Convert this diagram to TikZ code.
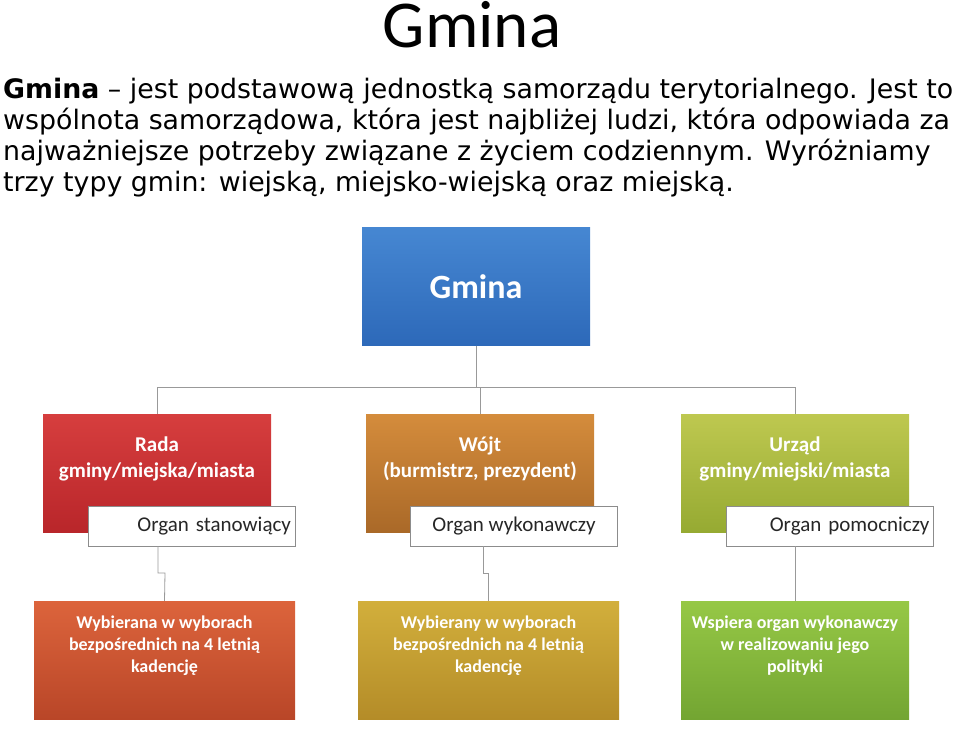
\documentclass[tikz,border=0pt]{standalone}
\usepackage{fontspec}
\setmainfont{DejaVu Sans}
\newfontfamily\carl{Carlito}
\begin{document}
\begin{tikzpicture}[x=1pt,y=-1pt,
  box/.style={minimum width=228pt,minimum height=118pt,inner sep=0pt,align=center,text=white,font=\carl\bfseries\fontsize{21}{26}\selectfont},
  low/.style={minimum width=261pt,minimum height=118pt,inner sep=0pt,align=center,text=white,font=\carl\bfseries\fontsize{18}{22}\selectfont},
  lab/.style={draw=black!45,fill=white,minimum width=207pt,minimum height=40pt,inner sep=0pt,font=\carl\fontsize{21}{25}\selectfont,text=black!85},
  conn/.style={draw=black!40,line width=0.8pt}]
\useasboundingbox (0,0) rectangle (960,736);
\node[font=\carl\fontsize{67}{74}\selectfont] (title) at (472,25) {Gmina};
\node[anchor=north west,inner sep=0pt,align=left,font=\fontsize{26.8}{31}\selectfont] (para) at (3,78)
{\textbf{Gmina} -- jest podstawową jednostką samorządu terytorialnego. Jest to\\
wspólnota samorządowa, która jest najbliżej ludzi, która odpowiada za\\
najważniejsze potrzeby związane z życiem codziennym. Wyróżniamy\\
trzy typy gmin: wiejską, miejsko-wiejską oraz miejską.};
\node[box,top color={rgb,255:red,70;green,135;blue,210},bottom color={rgb,255:red,45;green,105;blue,185},font=\carl\bfseries\fontsize{34}{40}\selectfont] (g) at (476,286.5) {Gmina};
\node[box,top color={rgb,255:red,214;green,62;blue,62},bottom color={rgb,255:red,185;green,38;blue,42}] (r) at (157,473) {Rada\\gminy/miejska/miasta\\[6pt]};
\node[box,top color={rgb,255:red,212;green,140;blue,60},bottom color={rgb,255:red,170;green,105;blue,40}] (w) at (480,473) {Wójt\\(burmistrz, prezydent)\\[6pt]};
\node[box,top color={rgb,255:red,190;green,200;blue,80},bottom color={rgb,255:red,150;green,170;blue,50}] (u) at (795,473) {Urząd\\gminy/miejski/miasta\\[6pt]};
\node[lab,align=right,text width=199pt] (rl) at (191.5,526) {Organ stanowiący};
\node[lab] (wl) at (514,526) {Organ wykonawczy};
\node[lab,align=right,text width=199pt] (ul) at (830,526) {Organ pomocniczy};
\node[low,top color={rgb,255:red,220;green,100;blue,60},bottom color={rgb,255:red,185;green,70;blue,40}] (rb) at (164.5,660) {Wybierana w wyborach\\bezpośrednich na 4 letnią\\kadencję\\[10pt]};
\node[low,top color={rgb,255:red,210;green,175;blue,60},bottom color={rgb,255:red,180;green,140;blue,40}] (wb) at (488.5,660) {Wybierany w wyborach\\bezpośrednich na 4 letnią\\kadencję\\[10pt]};
\node[low,minimum width=228pt,top color={rgb,255:red,150;green,200;blue,70},bottom color={rgb,255:red,115;green,165;blue,50}] (ub) at (795,660) {Wspiera organ wykonawczy\\w realizowaniu jego\\polityki\\[10pt]};
\coordinate (j) at (476,387);
\draw[conn] (g.south) -- (j);
\draw[conn] (j) -| (r.north);
\draw[conn] (j) -| (u.north);
\draw[conn] (j) -| (w.north);
\draw[conn] (158,546) |- (165,573) -- (rb.north);
\draw[conn] (483,546) |- (488.5,573) -- (wb.north);
\draw[conn] (ul.south -| ub.north) -- (ub.north);
\end{tikzpicture}
\end{document}
